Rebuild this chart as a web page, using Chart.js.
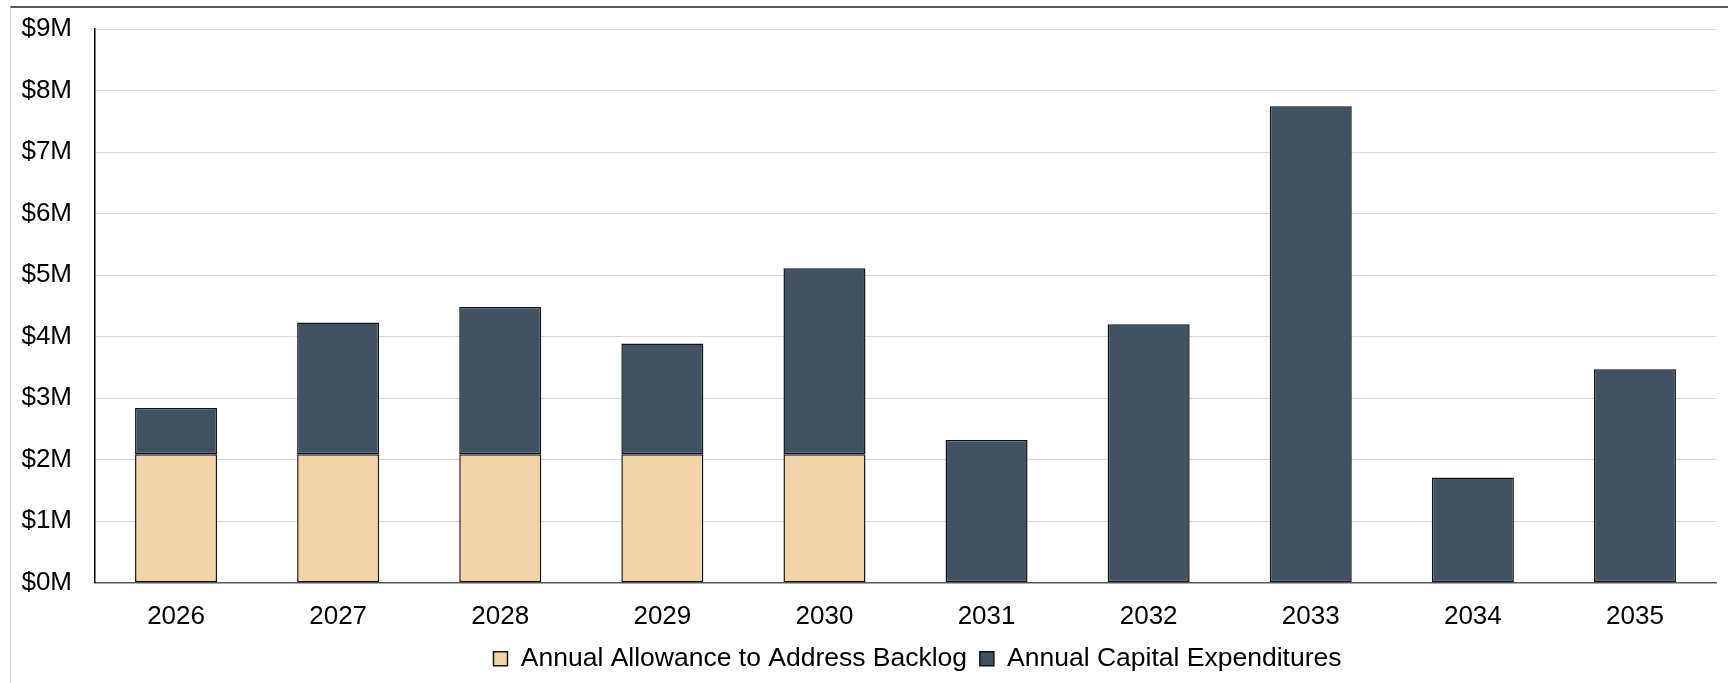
<!DOCTYPE html>
<html>
<head>
<meta charset="utf-8">
<script src="https://cdn.jsdelivr.net/npm/chart.js@4.4.1/dist/chart.umd.min.js"></script>
<style>
    html, body { margin: 0; padding: 0; background: #fff; }
    #frame {
        position: absolute; left: 10px; top: 6px;
        width: 1717px; height: 675px;
        border-top: 2px solid #5a5a5a;
        border-left: 1px solid #d0d0d0;
    }
    #wrap { position: relative; width: 1717px; height: 675px; }
</style>
</head>
<body>
<div id="frame"><div id="wrap"><canvas id="chart"></canvas></div></div>
<script>
const YEARS = ['2026', '2027', '2028', '2029', '2030', '2031', '2032', '2033', '2034', '2035'];
// values in $M
const BACKLOG = [2.09, 2.09, 2.09, 2.09, 2.09, 0, 0, 0, 0, 0];
const CAPEX = [0.75, 2.14, 2.39, 1.80, 3.02, 2.32, 4.20, 7.745, 1.71, 3.47];
const Y_TICKS = [0, 1, 2, 3, 4, 5, 6, 7, 8, 9];

const FAMILY = '"Liberation Sans", Arial, sans-serif';
const TICK_FONT = { family: FAMILY, size: 26 };
const LEGEND_FONT = { family: FAMILY, size: 26.5 };

const legendShift = {
    id: 'legendShift',
    afterLayout(chart) {
        chart.legend.left += 54;
        chart.legend.right += 54;
    },
};

new Chart(document.getElementById('chart'), {
    type: 'bar',
    data: {
        labels: YEARS,
        datasets: [
            {
                label: 'Annual Allowance to Address Backlog',
                data: BACKLOG.map(v => v * 1e6),
                backgroundColor: '#f3d4a9',
                borderColor: '#141414',
                borderWidth: 1.5,
                borderSkipped: false,
                categoryPercentage: 1,
                barPercentage: 0.506,
            },
            {
                label: 'Annual Capital Expenditures',
                data: CAPEX.map(v => v * 1e6),
                backgroundColor: '#425263',
                borderColor: '#141414',
                borderWidth: 1.5,
                borderSkipped: false,
                categoryPercentage: 1,
                barPercentage: 0.506,
            },
        ],
    },
    options: {
        responsive: true,
        maintainAspectRatio: false,
        animation: false,
        layout: { padding: { left: 0, right: 12, top: 21, bottom: 1 } },
        plugins: {
            tooltip: { enabled: false },
            legend: {
                position: 'bottom',
                labels: {
                    color: '#000',
                    font: LEGEND_FONT,
                    boxWidth: 14,
                    boxHeight: 14,
                    padding: 12.75,
                },
            },
        },
        scales: {
            x: {
                stacked: true,
                grid: { display: false, drawTicks: false },
                border: { color: '#595959', width: 1.5 },
                ticks: { color: '#000', font: TICK_FONT, padding: 18 },
                afterFit: s => { s.height = 50; },
            },
            y: {
                stacked: true,
                min: 0,
                max: Y_TICKS[Y_TICKS.length - 1] * 1e6,
                afterBuildTicks: s => { s.ticks = Y_TICKS.map(v => ({ value: v * 1e6 })); },
                grid: { color: '#d9d9d9', lineWidth: 1, drawTicks: false },
                border: { color: '#000', width: 1.5 },
                ticks: {
                    color: '#000',
                    font: TICK_FONT,
                    padding: 23,
                    callback: v => '$' + (v / 1e6) + 'M',
                },
                afterFit: s => {
                    s.width = 84;
                    s.paddingTop = 0;
                    s.paddingBottom = 0;
                },
            },
        },
    },
    plugins: [legendShift],
});
</script>
</body>
</html>
